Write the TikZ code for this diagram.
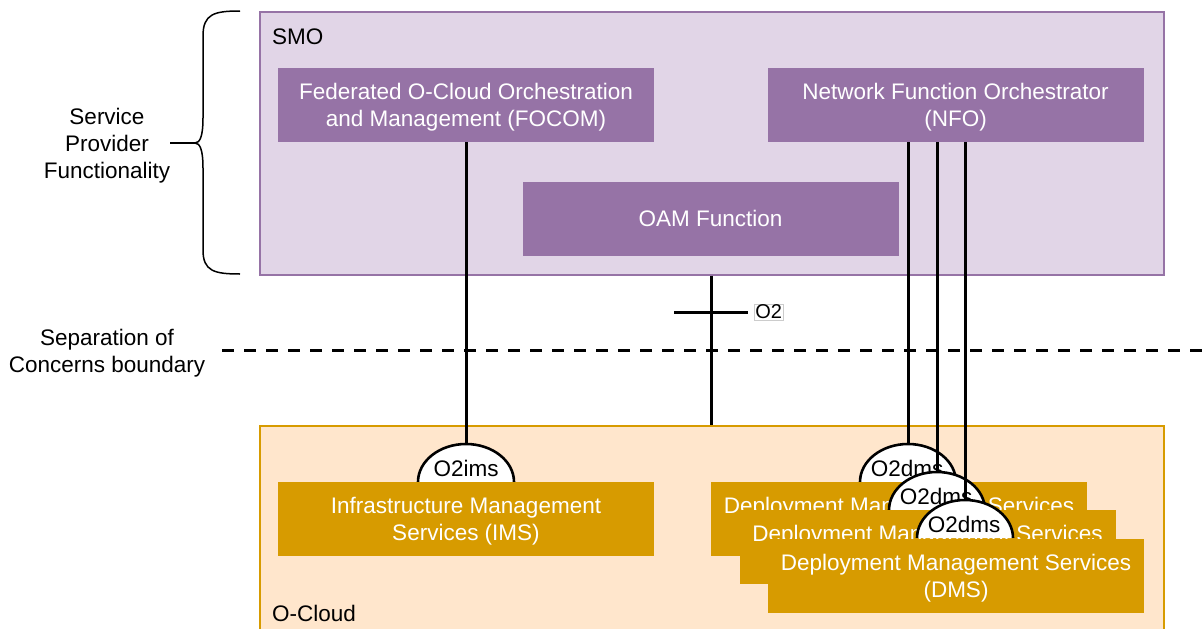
\documentclass[tikz,border=0pt]{standalone}
\usepackage{fontspec}
\setmainfont{Liberation Sans}
\usetikzlibrary{positioning}

\definecolor{smofill}{HTML}{E1D5E7}
\definecolor{smoline}{HTML}{9673A6}
\definecolor{cloudfill}{HTML}{FFE6CC}
\definecolor{cloudline}{HTML}{D79B00}

\begin{document}
\begin{tikzpicture}[x=1pt,y=-1pt,font=\fontsize{22.5}{27}\selectfont,
                outer box/.style={line width=1.5pt,minimum width=904,anchor=north west,inner sep=0},
                smo node/.style={fill=smoline,text=white,minimum width=376,minimum height=74,align=center,inner sep=0},
                cloud node/.style={fill=cloudline,text=white,minimum width=376,minimum height=74,align=center,inner sep=0},
                two lines/.style={text depth=-3pt},
                iface arc/.style={draw,line width=2.6pt,fill=white}]

  \useasboundingbox (0,0) rectangle (1202,629);
  \clip (0,0) rectangle (1202,629);

  % the two domains
  \node[outer box,fill=smofill,draw=smoline,minimum height=263] (smo) at (259,11) {};
  \node[outer box,fill=cloudfill,draw=cloudline,minimum height=240] (ocloud) at (259,425) {};
  \node[anchor=west,inner sep=0] (smo label) at (272,37) {SMO};
  \node[anchor=west,inner sep=0] (ocloud label) at (272,613) {O-Cloud};

  % SMO side
  \node[smo node,two lines] (focom) at (466,105) {Federated O-Cloud Orchestration\\and Management (FOCOM)};
  \node[smo node,two lines] (nfo) at (955.5,105) {Network Function Orchestrator\\(NFO)};
  \node[smo node] (oam) at (710.5,218.5) {OAM Function};

  % left hand labels
  \node[align=center,inner sep=0] (spf) at (107,146) {Service\\Provider\\Functionality};
  \node[align=center,inner sep=0] (soc) at (107,353) {Separation of\\Concerns boundary};
  \coordinate (tip) at (195,143);
  \coordinate (sep start) at (222,350);
  \coordinate (sep end) at (1202,350);

  \draw[line width=1.5pt] (240,11) .. controls (214,11) and (203,14) .. (203,36) -- (203,118)
        .. controls (203,136) and (200,143) .. (tip)
        .. controls (200,143) and (203,150) .. (203,168) -- (203,250)
        .. controls (203,271) and (214,274) .. (240,274);
  \draw[line width=1.5pt] (spf.east |- tip) -- (tip);
  \draw[line width=3pt,dash pattern=on 12pt off 10pt] (sep start) -- (sep end);

  % O2 interface
  \coordinate (o2 mid) at (711,312);
  \draw[line width=3pt] (smo.south -| o2 mid) -- (ocloud.north -| o2 mid);
  \draw[line width=3pt] ([xshift=-37]o2 mid) -- ([xshift=37]o2 mid);
  \node[draw=black!20,line width=0.6pt,inner sep=1pt,font=\fontsize{20}{24}\selectfont,right=43pt of o2 mid] (o2) {O2};

  % O-Cloud side
  \draw[iface arc] (418,482) arc[start angle=180,end angle=360,x radius=48,y radius=38];
  \node[inner sep=0] (o2ims) at (466,468) {O2ims};
  \coordinate (ims top) at (466,444);
  \node[cloud node,two lines] (ims) at (466,519) {Infrastructure Management\\Services (IMS)};

  \draw[iface arc] (860,482) arc[start angle=180,end angle=360,x radius=48,y radius=38];
  \node[inner sep=0] (o2dms1) at (907,468) {O2dms};
  \coordinate (dms1 top) at (908,444);
  \node[cloud node,two lines] (dms1) at (899,519) {Deployment Management Services\\(DMS)};

  \draw[iface arc] (889,510) arc[start angle=180,end angle=360,x radius=48,y radius=38];
  \node[inner sep=0] (o2dms2) at (936,496) {O2dms};
  \coordinate (dms2 top) at (937,472);
  \node[cloud node,two lines] (dms2) at (927.5,547) {Deployment Management Services\\(DMS)};

  \draw[iface arc] (917,538) arc[start angle=180,end angle=360,x radius=48,y radius=38];
  \node[inner sep=0] (o2dms3) at (964,524) {O2dms};
  \coordinate (dms3 top) at (965,500);
  \node[cloud node,two lines] (dms3) at (956,575.5) {Deployment Management Services\\(DMS)};

  % O2ims and O2dms links
  \draw[line width=3pt] (focom) -- (ims top);
  \draw[line width=3pt] (nfo.south -| dms1 top) -- (dms1 top);
  \draw[line width=3pt] (nfo.south -| dms2 top) -- (dms2 top);
  \draw[line width=3pt] (nfo.south -| dms3 top) -- (dms3 top);

\end{tikzpicture}
\end{document}
